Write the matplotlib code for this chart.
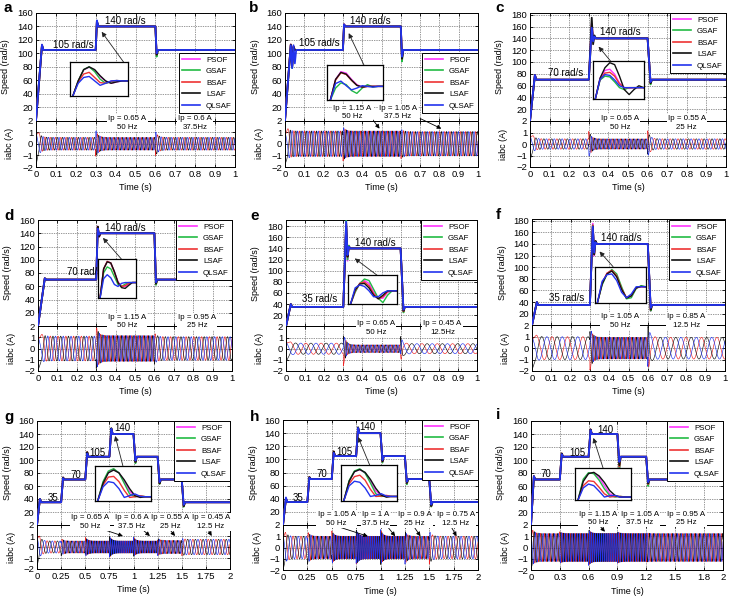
import numpy as np
import matplotlib
matplotlib.use('Agg')
import matplotlib.pyplot as plt
from matplotlib.lines import Line2D

plt.rcParams['font.family'] = ['Liberation Sans', 'DejaVu Sans']

series_names = ['PSOF', 'GSAF', 'BSAF', 'LSAF', 'QLSAF']
series_colors = ['#ff33ff', '#22bb44', '#ee3333', '#111111', '#2233ee']
phase_colors = ['#ee2222', '#111111', '#2233ee']
hz_per_rad = 50.0 / 140.0   # 140 rad/s <-> 50 Hz as annotated

# ---------------- panel a ----------------
a_step_t = [0.0, 0.3, 0.6]
a_step_w = [105, 140, 105]
a_osc = {'PSOF': [[112], [147], [98]], 'GSAF': [[112], [147], [95]], 'BSAF': [[112], [147], [98]],
         'LSAF': [[112], [148], [98]], 'QLSAF': [[113], [149], [100]]}
a_cur_amp = [0.55, 0.55, 0.55]
a_cur_burst = [1.9, 1.2, 1.1]
a_inset = {'PSOF': [0, .45, .77, .85, .76, .58, .44, .38, .42, .45, .45],
           'GSAF': [0, .45, .78, .86, .72, .50, .38, .42, .46, .45, .45],
           'BSAF': [0, .42, .65, .70, .55, .40, .38, .44, .46, .45, .45],
           'LSAF': [0, .45, .78, .86, .78, .60, .45, .38, .42, .45, .45],
           'QLSAF': [0, .38, .55, .58, .45, .32, .38, .45, .46, .45, .45]}
a_speed_text = [('105 rad/s', 0.19, 113), ('140 rad/s', 0.45, 148)]
a_ip_text = [('Ip = 0.65 A\n50 Hz', 0.46), ('Ip = 0.6 A\n37.5Hz', 0.80)]

# ---------------- panel b ----------------
b_step_t = [0.0, 0.3, 0.6]
b_step_w = [105, 140, 105]
b_osc = {'PSOF': [[113, 80, 110], [143], [92]], 'GSAF': [[112, 78, 108], [142], [88]],
         'BSAF': [[113, 80, 110], [143], [92]], 'LSAF': [[113, 80, 110], [143], [92]],
         'QLSAF': [[112, 78, 112, 85], [143], [95]]}
b_cur_amp = [1.1, 1.1, 1.05]
b_cur_burst = [1.8, 1.5, 1.3]
b_inset = {'PSOF': [0, .60, .82, .78, .60, .45, .38, .40, .40, .40, .40],
           'GSAF': [0, .35, .50, .45, .28, .20, .35, .45, .38, .40, .40],
           'BSAF': [0, .58, .79, .74, .57, .43, .38, .40, .40, .40, .40],
           'LSAF': [0, .60, .80, .75, .58, .43, .38, .40, .40, .40, .40],
           'QLSAF': [0, .48, .55, .42, .30, .35, .42, .40, .38, .40, .40]}
b_speed_text = [('105 rad/s', 0.18, 115), ('140 rad/s', 0.44, 148)]
b_ip_text = [('Ip = 1.15 A\n50 Hz', 0.35), ('Ip = 1.05 A\n37.5 Hz', 0.585)]

# ---------------- panel c ----------------
c_step_t = [0.0, 0.3, 0.6]
c_step_w = [70, 140, 70]
c_osc = {'PSOF': [[78], [165, 138], [64]], 'GSAF': [[77], [155, 138], [62]],
         'BSAF': [[78], [160, 137], [64]], 'LSAF': [[78], [175, 130, 145], [64]],
         'QLSAF': [[78], [158, 135, 143], [66]]}
c_cur_amp = [0.45, 0.45, 0.45]
c_cur_burst = [1.5, 1.2, 1.2]
c_inset = {'PSOF': [0, .55, .75, .78, .65, .42, .30, .28, .30, .30, .30],
           'GSAF': [0, .50, .60, .58, .45, .30, .25, .30, .30, .30, .30],
           'BSAF': [0, .52, .68, .70, .60, .40, .30, .30, .30, .30, .30],
           'LSAF': [0, .55, .82, .95, .90, .60, .25, .12, .25, .35, .30],
           'QLSAF': [0, .52, .64, .62, .50, .35, .30, .30, .30, .30, .30]}
c_speed_text = [('70 rad/s', 0.18, 81), ('140 rad/s', 0.46, 151)]
c_ip_text = [('Ip = 0.65 A\n50 Hz', 0.46), ('Ip = 0.55 A\n25 Hz', 0.80)]

# ---------------- panel d ----------------
d_step_t = [0.0, 0.3, 0.6]
d_step_w = [70, 140, 70]
d_osc = {'PSOF': [[72], [150, 135], [64]], 'GSAF': [[72], [148, 136], [62]],
         'BSAF': [[72], [150, 135], [64]], 'LSAF': [[72], [150, 135], [64]],
         'QLSAF': [[72], [147, 138], [66]]}
d_cur_amp = [1.1, 1.15, 1.05]
d_cur_burst = [2.0, 2.0, 1.4]
d_inset = {'PSOF': [0, .75, .94, .90, .68, .42, .30, .30, .36, .40, .40],
           'GSAF': [0, .65, .80, .75, .55, .35, .30, .36, .40, .40, .40],
           'BSAF': [0, .75, .94, .90, .66, .40, .30, .32, .38, .40, .40],
           'LSAF': [0, .75, .93, .90, .68, .40, .27, .25, .33, .40, .40],
           'QLSAF': [0, .50, .60, .52, .35, .30, .38, .40, .40, .40, .40]}
d_speed_text = [('70 rad/s', 0.24, 81), ('140 rad/s', 0.45, 148)]
d_ip_text = [('Ip = 1.15 A\n50 Hz', 0.46), ('Ip = 0.95 A\n25 Hz', 0.82)]

# ---------------- panel e ----------------
e_step_t = [0.0, 0.3, 0.6]
e_step_w = [35, 140, 35]
e_osc = {'PSOF': [[40], [185, 118, 145], [27]], 'GSAF': [[40], [190, 120, 145], [25]],
         'BSAF': [[40], [185, 125, 143], [27]], 'LSAF': [[40], [180, 125, 143], [28]],
         'QLSAF': [[40], [188, 128, 143], [30]]}
e_cur_amp = [0.5, 0.35, 0.45]
e_cur_burst = [1.3, 1.6, 1.1]
e_inset = {'PSOF': [0, .42, .70, .80, .70, .40, .20, .20, .40, .45, .45],
           'GSAF': [0, .40, .70, .85, .80, .50, .20, .05, .30, .45, .45],
           'BSAF': [0, .45, .70, .75, .62, .35, .18, .25, .42, .45, .45],
           'LSAF': [0, .48, .68, .70, .55, .30, .18, .30, .45, .45, .45],
           'QLSAF': [0, .55, .65, .60, .45, .25, .25, .38, .45, .45, .45]}
e_speed_text = [('35 rad/s', 0.175, 49), ('140 rad/s', 0.47, 150)]
e_ip_text = [('Ip = 0.65 A\n50 Hz', 0.47), ('Ip = 0.45 A\n12.5Hz', 0.82)]

# ---------------- panel f ----------------
f_step_t = [0.0, 0.3, 0.6]
f_step_w = [35, 140, 35]
f_osc = {'PSOF': [[40], [175, 120, 145], [25]], 'GSAF': [[40], [172, 122, 145], [25]],
         'BSAF': [[40], [172, 122, 145], [27]], 'LSAF': [[40], [170, 122, 145], [27]],
         'QLSAF': [[40], [170, 125, 143], [30]]}
f_cur_amp = [1.0, 0.95, 0.95]
f_cur_burst = [2.0, 2.0, 2.0]
f_inset = {'PSOF': [0, .55, .82, .90, .75, .40, .15, .20, .42, .45, .45],
           'GSAF': [0, .50, .80, .92, .80, .45, .12, .15, .40, .48, .45],
           'BSAF': [0, .55, .82, .90, .75, .40, .15, .20, .42, .45, .45],
           'LSAF': [0, .53, .80, .88, .72, .38, .14, .20, .42, .46, .45],
           'QLSAF': [0, .60, .78, .80, .62, .30, .15, .25, .45, .45, .45]}
f_speed_text = [('35 rad/s', 0.18, 47), ('140 rad/s', 0.465, 150)]
f_ip_text = [('Ip = 1.05 A\n50 Hz', 0.455), ('Ip = 0.85 A\n12.5 Hz', 0.80)]

# ---------------- panel g ----------------
g_step_t = [0.0, 0.25, 0.5, 0.75, 1.0, 1.25, 1.5]
g_step_w = [35, 70, 105, 140, 105, 70, 35]
g_osc = {'PSOF': [[40], [73], [112], [148], [96], [64], [29]],
         'GSAF': [[40], [73], [112], [148], [95], [63], [28]],
         'BSAF': [[40], [73], [112], [148], [97], [64], [29]],
         'LSAF': [[40], [73], [112], [149], [97], [64], [29]],
         'QLSAF': [[40], [72], [110], [148], [99], [66], [31]]}
g_cur_amp = [0.55, 0.55, 0.55, 0.55, 0.55, 0.6, 0.7]
g_cur_burst = [1.8, 0.8, 0.9, 1.0, 0.9, 0.8, 0.8]
g_inset = {'PSOF': [0, .52, .82, .90, .80, .55, .28, .13, .12, .12, .12],
           'GSAF': [0, .55, .85, .92, .80, .50, .20, .12, .14, .12, .12],
           'BSAF': [0, .45, .68, .70, .55, .30, .10, .12, .15, .12, .12],
           'LSAF': [0, .50, .80, .88, .80, .60, .35, .15, .10, .12, .12],
           'QLSAF': [0, .40, .55, .52, .35, .10, .15, .20, .13, .12, .12]}
g_speed_text = [('35', 0.17, 41), ('70', 0.40, 77), ('105', 0.63, 111), ('140', 0.88, 149)]
g_ip_text = [('Ip = 0.65 A\n50 Hz', 0.55), ('Ip = 0.6 A\n37.5 Hz', 0.98),
             ('Ip = 0.55 A\n25 Hz', 1.38), ('Ip = 0.45 A\n12.5 Hz', 1.80)]

# ---------------- panel h ----------------
h_step_t = [0.0, 0.25, 0.5, 0.75, 1.0, 1.25, 1.5]
h_step_w = [35, 70, 105, 140, 105, 70, 35]
h_osc = {'PSOF': [[40], [73], [112], [148], [96], [64], [29]],
         'GSAF': [[40], [73], [112], [148], [95], [62], [28]],
         'BSAF': [[40], [73], [112], [148], [97], [64], [29]],
         'LSAF': [[40], [73], [112], [149], [97], [64], [29]],
         'QLSAF': [[42], [72], [110], [148], [99], [66], [31]]}
h_cur_amp = [1.0, 1.0, 1.0, 1.0, 1.0, 1.0, 1.0]
h_cur_burst = [2.0, 1.5, 1.5, 1.6, 1.6, 1.5, 1.5]
h_inset = {'PSOF': [0, .55, .82, .88, .78, .55, .28, .15, .12, .12, .12],
           'GSAF': [0, .57, .84, .90, .78, .50, .20, .12, .14, .12, .12],
           'BSAF': [0, .48, .68, .72, .58, .32, .12, .13, .15, .12, .12],
           'LSAF': [0, .55, .82, .88, .80, .60, .35, .16, .10, .12, .12],
           'QLSAF': [0, .42, .55, .52, .36, .12, .15, .20, .13, .12, .12]}
h_speed_text = [('35', 0.15, 41), ('70', 0.40, 77), ('105', 0.63, 111), ('140', 0.87, 149)]
h_ip_text = [('Ip = 1.05 A\n50 Hz', 0.55), ('Ip = 1 A\n37.5 Hz', 0.95),
             ('Ip = 0.9 A\n25 Hz', 1.35), ('Ip = 0.75 A\n12.5 Hz', 1.77)]

# ---------------- panel i ----------------
i_step_t = [0.0, 0.3, 0.6, 0.9, 1.2]
i_step_w = [70, 105, 140, 105, 70]
i_osc = {'PSOF': [[75], [110], [147], [88], [62]], 'GSAF': [[75], [110], [147], [85], [60]],
         'BSAF': [[75], [110], [147], [90], [63]], 'LSAF': [[75], [110], [147], [92], [64]],
         'QLSAF': [[75], [109], [146], [97], [66]]}
i_cur_amp = [1.25, 1.25, 1.25, 1.25, 1.25]
i_cur_burst = [1.9, 1.4, 1.6, 1.4, 1.3]
i_inset = {'PSOF': [0, .60, .84, .85, .70, .45, .20, .12, .10, .10, .10],
           'GSAF': [0, .65, .85, .82, .62, .35, .15, .10, .12, .10, .10],
           'BSAF': [0, .45, .60, .58, .40, .20, .10, .12, .12, .10, .10],
           'LSAF': [0, .58, .82, .86, .75, .55, .30, .15, .10, .10, .10],
           'QLSAF': [0, .38, .50, .45, .28, .10, .14, .15, .10, .10, .10]}
i_speed_text = [('70', 0.15, 78), ('105', 0.48, 110), ('140', 0.77, 146)]
i_ip_text = [('Ip = 1.15 A\n50 Hz', 0.70), ('Ip = 1.05 A\n37.5 Hz', 1.135), ('Ip = 0.95 A\n25 Hz', 1.62)]

# ---------------- layout (pixels) ----------------
W, H = 735, 597
ticks_1s = [0, 0.1, 0.2, 0.3, 0.4, 0.5, 0.6, 0.7, 0.8, 0.9, 1.0]
labels_1s = ['0', '0.1', '0.2', '0.3', '0.4', '0.5', '0.6', '0.7', '0.8', '0.9', '1']
ticks_2s = [0, 0.25, 0.5, 0.75, 1.0, 1.25, 1.5, 1.75, 2.0]
labels_2s = ['0', '0.25', '0.5', '0.75', '1', '1.25', '1.5', '1.75', '2']
ticks_i = [0, 0.3, 0.6, 0.9, 1.2, 1.5, 1.8, 2.0]
labels_i = ['0', '0.3', '0.6', '0.9', '1.2', '1.5', '1.8', '2']

panels = [
    dict(letter='a', T=1.0, box=(36, 235, 13, 120.5, 167), ymax=160, yt=range(20, 161, 20),
         st=a_step_t, sw=a_step_w, osc=a_osc, amp=a_cur_amp, burst=a_cur_burst, inset=a_inset,
         stext=a_speed_text, iptext=a_ip_text, ipy=-4, rise0=0.03, rise=0.006,
         leg=(235, 53), ibox=(0.17, 0.46, 36, 87), arrow=((0.44, 87), (0.33, 132)), small=[],
         xt=(ticks_1s, labels_1s), lpos=(4, 8)),
    dict(letter='b', T=1.0, box=(285, 478, 13, 120.5, 167), ymax=160, yt=range(20, 161, 20),
         st=b_step_t, sw=b_step_w, osc=b_osc, amp=b_cur_amp, burst=b_cur_burst, inset=b_inset,
         stext=b_speed_text, iptext=b_ip_text, ipy=12, rise0=0.03, rise=0.006,
         leg=(478, 53), ibox=(0.22, 0.51, 30, 82), arrow=((0.41, 82), (0.33, 130)),
         small=[((0.45, 3), (0.49, 1.3)), ((0.70, 3), (0.81, 1.3))],
         xt=(ticks_1s, labels_1s), lpos=(249, 8)),
    dict(letter='c', T=1.0, box=(530, 726, 13, 121, 167), ymax=183, yt=range(20, 181, 20),
         st=c_step_t, sw=c_step_w, osc=c_osc, amp=c_cur_amp, burst=c_cur_burst, inset=c_inset,
         stext=c_speed_text, iptext=c_ip_text, ipy=-3, rise0=0.025, rise=0.015,
         leg=(726, 13), ibox=(0.32, 0.58, 37, 102), arrow=((0.41, 102), (0.35, 126)), small=[],
         xt=(ticks_1s, labels_1s), lpos=(495, 8)),
    dict(letter='d', T=1.0, box=(38, 232, 220, 326, 371), ymax=160, yt=range(20, 161, 20),
         st=d_step_t, sw=d_step_w, osc=d_osc, amp=d_cur_amp, burst=d_cur_burst, inset=d_inset,
         stext=d_speed_text, iptext=d_ip_text, ipy=7, rise0=0.035, rise=0.008,
         leg=(232, 220), ibox=(0.31, 0.505, 42, 101), arrow=((0.43, 101), (0.335, 133)), small=[],
         xt=(ticks_1s, labels_1s), lpos=(4, 216)),
    dict(letter='e', T=1.0, box=(286, 477, 220, 326.4, 371), ymax=191, yt=range(20, 181, 20),
         st=e_step_t, sw=e_step_w, osc=e_osc, amp=e_cur_amp, burst=e_cur_burst, inset=e_inset,
         stext=e_speed_text, iptext=e_ip_text, ipy=-3, rise0=0.025, rise=0.015,
         leg=(477, 220), ibox=(0.325, 0.58, 40, 93), arrow=((0.48, 91), (0.36, 122)), small=[],
         xt=(ticks_1s, labels_1s), lpos=(250, 216)),
    dict(letter='f', T=1.0, box=(532, 725, 219, 325.3, 371), ymax=183, yt=range(20, 181, 20),
         st=f_step_t, sw=f_step_w, osc=f_osc, amp=f_cur_amp, burst=f_cur_burst, inset=f_inset,
         stext=f_speed_text, iptext=f_ip_text, ipy=7, rise0=0.025, rise=0.015,
         leg=(725, 220), ibox=(0.325, 0.59, 38, 101), arrow=((0.42, 101), (0.35, 127)), small=[],
         xt=(ticks_1s, labels_1s), lpos=(496, 215)),
    dict(letter='g', T=2.0, box=(37, 230, 421, 525, 569), ymax=160, yt=range(20, 161, 20),
         st=g_step_t, sw=g_step_w, osc=g_osc, amp=g_cur_amp, burst=g_cur_burst, inset=g_inset,
         stext=g_speed_text, iptext=g_ip_text, ipy=5, rise0=0.03, rise=0.01,
         leg=(230, 421), ibox=(0.60, 1.18, 37, 91), arrow=((0.89, 91), (0.81, 137)),
         small=[((0.63, -4), (0.89, 1.0)), ((1.07, -4), (1.17, 1.0)),
                ((1.36, -4), (1.43, 1.0)), ((1.76, -4), (1.81, 1.0))],
         xt=(ticks_2s, labels_2s), lpos=(4, 417)),
    dict(letter='h', T=2.0, box=(283, 478, 420, 525, 570), ymax=160, yt=range(20, 161, 20),
         st=h_step_t, sw=h_step_w, osc=h_osc, amp=h_cur_amp, burst=h_cur_burst, inset=h_inset,
         stext=h_speed_text, iptext=h_ip_text, ipy=9, rise0=0.03, rise=0.01,
         leg=(478, 420), ibox=(0.595, 1.17, 37, 91), arrow=((0.89, 91), (0.77, 134)),
         small=[((0.595, -4), (0.87, 1.0)), ((1.08, -4), (1.15, 1.0)),
                ((1.35, -4), (1.41, 1.0)), ((1.73, -4), (1.78, 1.0))],
         xt=(ticks_2s, labels_2s), lpos=(250, 417)),
    dict(letter='i', T=2.0, box=(531, 723, 421, 525, 570), ymax=160, yt=range(20, 161, 20),
         st=i_step_t, sw=i_step_w, osc=i_osc, amp=i_cur_amp, burst=i_cur_burst, inset=i_inset,
         stext=i_speed_text, iptext=i_ip_text, ipy=10, rise0=0.03, rise=0.01,
         leg=(723, 421), ibox=(0.46, 1.04, 38, 88), arrow=((0.75, 88), (0.65, 134)),
         small=[((0.72, -2), (0.77, 1.4))],
         xt=(ticks_i, labels_i), lpos=(496, 415)),
]


def frect(l, r, t, b):
    return [l / W, 1 - b / H, (r - l) / W, (b - t) / H]


def speed_points(st, sw, osc, T, rise0, rise, dt):
    ts, ws = [0.0], [0.0]
    prev = 0.0
    for k, (t0, w) in enumerate(zip(st, sw)):
        r = rise0 if k == 0 else rise
        if k > 0:
            ts.append(t0)
            ws.append(prev)
        ext = osc[k]
        for j, v in enumerate(ext):
            ts.append(t0 + r + j * dt)
            ws.append(v)
        ts.append(t0 + r + len(ext) * dt)
        ws.append(w)
        prev = w
    ts.append(T)
    ws.append(prev)
    return np.array(ts), np.array(ws)


fig = plt.figure(figsize=(W / 100, H / 100), dpi=100)
FS = 6.8
LFS = 6.5

for p in panels:
    l, r, t, bnd, b = p['box']
    T = p['T']
    axs = fig.add_axes(frect(l, r, t, bnd))
    axc = fig.add_axes(frect(l, r, bnd, b))
    axs.set_zorder(3)
    axc.set_zorder(2)
    dt = 0.007 * T

    # speed traces
    blue_t, blue_w = None, None
    for name, col in zip(series_names, series_colors):
        ts, ws = speed_points(p['st'], p['sw'], p['osc'][name], T, p['rise0'], p['rise'] * T, dt)
        axs.plot(ts, ws, color=col, lw=1.3, zorder=3)
        if name == 'QLSAF':
            blue_t, blue_w = ts, ws
    axs.set_xlim(0, T)
    axs.set_ylim(0, p['ymax'])
    axs.set_yticks(list(p['yt']))
    axs.set_xticks(p['xt'][0])
    axs.set_xticklabels([])

    # currents: frequency follows the speed (140 rad/s <-> 50 Hz)
    tt = np.linspace(0, T, int(6000 * T))
    wt = np.interp(tt, blue_t, blue_w)
    ph = 2 * np.pi * np.cumsum(wt * hz_per_rad) * (tt[1] - tt[0])
    env = np.zeros_like(tt)
    bounds = list(p['st']) + [T + 1e-9]
    tau = 0.012 * T
    for k in range(len(p['st'])):
        m = (tt >= bounds[k]) & (tt < bounds[k + 1])
        env[m] = p['amp'][k] + (p['burst'][k] - p['amp'][k]) * np.exp(-(tt[m] - bounds[k]) / tau)
    for j, col in enumerate(phase_colors):
        axc.plot(tt, env * np.sin(ph - j * 2 * np.pi / 3 + 0.5), color=col, lw=0.45)
    axc.set_xlim(0, T)
    axc.set_ylim(-2, 2)
    axc.set_yticks([-2, -1, 0, 1, 2])
    axc.set_yticklabels(['\u22122', '\u22121', '0', '1', '2'])
    axc.set_xticks(p['xt'][0])
    axc.set_xticklabels(p['xt'][1])

    for ax in (axs, axc):
        ax.set_axisbelow(True)
        ax.grid(True, linestyle=(0, (1, 1.5)), color='#333333', lw=0.5)
        ax.tick_params(direction='in', top=True, right=True, labelsize=FS, length=2.5,
                       width=0.6, pad=2)
        for s in ax.spines.values():
            s.set_linewidth(0.7)

    # labels
    sc = (bnd + t) / 2
    fig.text((l - 30) / W, 1 - sc / H, 'Speed (rad/s)', rotation=90, ha='center', va='center', fontsize=LFS)
    fig.text((l - 26) / W, 1 - (bnd + b) / 2 / H, 'iabc (A)', rotation=90, ha='center', va='center', fontsize=LFS)
    fig.text((l + r) / 2 / W, 1 - (b + 21) / H, 'Time (s)', ha='center', va='center', fontsize=LFS)
    fig.text(p['lpos'][0] / W, 1 - p['lpos'][1] / H, p['letter'], fontsize=11, fontweight='bold',
             ha='left', va='center')

    # speed annotations
    for txt, x, y in p['stext']:
        axs.text(x, y, txt, ha='center', va='center', fontsize=7, zorder=4)
    for txt, x in p['iptext']:
        axs.text(x, p['ipy'], txt, ha='center', va='center', fontsize=5.7, linespacing=1.3,
                 zorder=8, clip_on=False,
                 bbox=dict(facecolor='white', edgecolor='none', pad=0.8))
    for (tx, ty), (hx, hy) in p['small']:
        axs.annotate('', xy=(hx, hy), xycoords=axc.transData, xytext=(tx, ty), textcoords='data',
                     arrowprops=dict(arrowstyle='-|>', color='k', lw=0.6, mutation_scale=6,
                                     shrinkA=0, shrinkB=0), annotation_clip=False, zorder=7)

    # arrow to inset
    (tx, ty), (hx, hy) = p['arrow']
    axs.annotate('', xy=(hx, hy), xytext=(tx, ty),
                 arrowprops=dict(arrowstyle='-|>', color='#222222', lw=0.6, mutation_scale=7,
                                 shrinkA=0, shrinkB=0), zorder=5)

    # legend
    handles = [Line2D([0], [0], color=c, lw=1.2) for c in series_colors]
    lx, ly = p['leg']
    leg = axs.legend(handles, series_names, loc='upper right',
                     bbox_to_anchor=(lx / W, 1 - ly / H), bbox_transform=fig.transFigure,
                     fontsize=5.7, frameon=True, fancybox=False, framealpha=1, edgecolor='k',
                     borderaxespad=0, borderpad=0.4, labelspacing=0.5, handlelength=2.3,
                     handletextpad=0.75)
    leg.get_frame().set_linewidth(0.7)
    leg.set_zorder(9)

    # inset
    x0, x1, y0, y1 = p['ibox']
    il = l + x0 / T * (r - l)
    ir = l + x1 / T * (r - l)
    itop = bnd - y1 / p['ymax'] * (bnd - t)
    ibot = bnd - y0 / p['ymax'] * (bnd - t)
    axi = fig.add_axes(frect(il, ir, itop, ibot))
    axi.set_zorder(6)
    xs = np.linspace(0.05, 1.0, 11)
    for name, col in zip(series_names, series_colors):
        axi.plot(xs, p['inset'][name], color=col, lw=1.0)
    axi.set_xlim(0, 1)
    axi.set_ylim(0, 1)
    axi.set_xticks([])
    axi.set_yticks([])
    for s in axi.spines.values():
        s.set_linewidth(0.9)

fig.savefig('out.png', dpi=100)
